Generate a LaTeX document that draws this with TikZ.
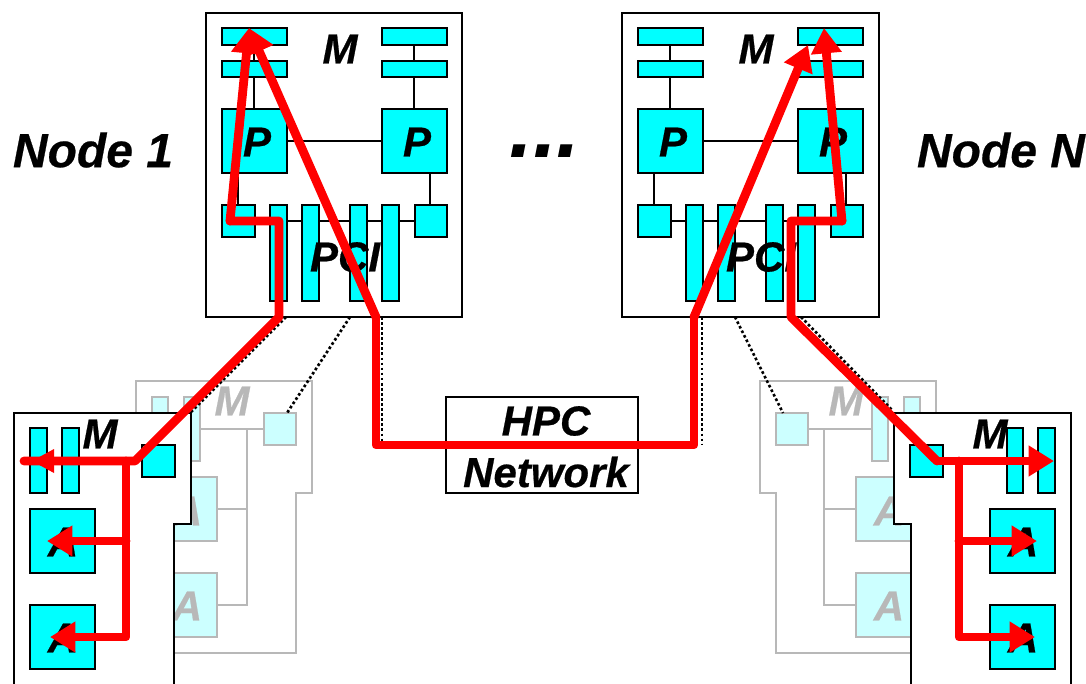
\documentclass[tikz,border=0pt]{standalone}
\usepackage{fontspec}
\setmainfont{Liberation Sans}[BoldItalicFeatures={FakeBold=0.5}]
\newfontfamily\dotfont{Liberation Sans}
\usetikzlibrary{arrows.meta}
\definecolor{cy}{RGB}{0,255,255}
\definecolor{ltcy}{RGB}{204,255,255}
\definecolor{gr}{RGB}{184,184,184}
\definecolor{rd}{RGB}{255,0,0}
\tikzset{
 x=0.75pt,y=-0.75pt,
 blk/.style={draw=black,line width=2pt},
 thin blk/.style={draw=black,line width=1.8pt},
 cbox/.style={draw=black,fill=cy,line width=2pt},
 gbox/.style={draw=gr,fill=ltcy,line width=2pt},
 gln/.style={draw=gr,line width=2.1pt},
 dots/.style={draw=black,line width=2pt,dash pattern=on 2pt off 1.8pt},
 redl/.style={draw=rd,line width=6.6pt,line join=round,line cap=round},
 redh/.style={redl,-{Triangle[length=19pt,width=22pt]}},
 lab/.style={font=\bfseries\itshape\fontsize{31.5pt}{31.5pt}\selectfont,inner sep=0pt,text=black},
 glab/.style={lab,text=gr},
 big/.style={font=\bfseries\itshape\fontsize{36pt}{36pt}\selectfont,inner sep=0pt,text=black},
}
\newcommand{\bx}[5]{\path[#1] (#2,#3) rectangle (#4,#5);}
\begin{document}
\begin{tikzpicture}
\useasboundingbox (0,0) rectangle (1086,683);
% --- gray cards
\path[gln,fill=white,line join=miter] (136,381) -- (312,381) -- (312,493) -- (296,493) -- (296,653) -- (136,653) -- cycle;
\path[gln,fill=white] (760,381) -- (936,381) -- (936,653) -- (776,653) -- (776,493) -- (760,493) -- cycle;
\path[gln] (200,429) -- (264,429);
\path[gln] (247,429) -- (247,605) -- (200,605);
\path[gln] (247,509) -- (200,509);
\path[gln] (808,429) -- (872,429);
\path[gln] (824,429) -- (824,605) -- (870,605);
\path[gln] (824,509) -- (870,509);
\bx{gbox}{152}{397}{168}{461}
\bx{gbox}{184}{397}{200}{461}
\bx{gbox}{264}{413}{296}{445}
\bx{gbox}{152}{477}{217}{541}
\bx{gbox}{152}{573}{217}{637}
\bx{gbox}{776}{413}{808}{445}
\bx{gbox}{872}{397}{888}{461}
\bx{gbox}{904}{397}{920}{461}
\bx{gbox}{856}{477}{921}{541}
\bx{gbox}{856}{573}{921}{637}
\node[glab] (gm1) at (232,401) {M};
\node[glab] (ga1) at (187,511) {A};
\node[glab] (ga2) at (187,606) {A};
\node[glab] (gm2) at (846,401) {M};
\node[glab] (ga3) at (889,511) {A};
\node[glab] (ga4) at (889,606) {A};
% --- front cards
\path[blk,fill=white] (14,690) -- (14,413) -- (191,413) -- (191,524) -- (174,524) -- (174,690);
\path[blk,fill=white] (911,690) -- (911,524) -- (894,524) -- (894,413) -- (1071,413) -- (1071,690);
\node[lab] (cm1) at (100,434) {M};
\node[lab] (cm2) at (990,434) {M};
\bx{cbox}{30}{428}{47}{493}
\bx{cbox}{62}{428}{79}{493}
\bx{cbox}{142}{445}{175}{477}
\bx{cbox}{30}{509}{95}{573}
\bx{cbox}{30}{605}{95}{669}
\bx{cbox}{910}{445}{943}{477}
\bx{cbox}{1007}{428}{1023}{493}
\bx{cbox}{1038}{428}{1055}{493}
\bx{cbox}{990}{509}{1055}{573}
\bx{cbox}{990}{605}{1055}{669}
\node[lab] (ca1) at (63,542) {A};
\node[lab] (ca2) at (63,638) {A};
\node[lab] (ca3) at (1023,542) {A};
\node[lab] (ca4) at (1023,638) {A};
% --- node 1
\path[blk] (206,13) rectangle (462,317);
\path[thin blk] (254,45) -- (254,109);
\path[thin blk] (414,45) -- (414,109);
\path[thin blk] (287,141) -- (382,141);
\path[thin blk] (238,173) -- (238,205);
\path[thin blk] (430,173) -- (430,205);
\path[thin blk] (255,221) -- (415,221);
\bx{cbox}{222}{28}{287}{45}
\bx{cbox}{222}{61}{287}{77}
\bx{cbox}{382}{28}{447}{45}
\bx{cbox}{382}{61}{447}{77}
\bx{cbox}{222}{109}{287}{173}
\bx{cbox}{382}{109}{447}{173}
\bx{cbox}{222}{205}{255}{237}
\bx{cbox}{415}{205}{447}{237}
\bx{cbox}{270}{205}{287}{301}
\bx{cbox}{302}{205}{319}{301}
\bx{cbox}{350}{205}{367}{301}
\bx{cbox}{382}{205}{399}{301}
\node[lab] (m1) at (340,49) {M};
\node[lab] (p1) at (257,142) {P};
\node[lab] (p2) at (417,142) {P};
\node[lab] (pci1) at (345,257) {PCI};
% --- node N
\path[blk] (622,13) rectangle (879,317);
\path[thin blk] (670,45) -- (670,109);
\path[thin blk] (830,45) -- (830,109);
\path[thin blk] (703,141) -- (798,141);
\path[thin blk] (654,173) -- (654,205);
\path[thin blk] (846,173) -- (846,205);
\path[thin blk] (671,221) -- (831,221);
\bx{cbox}{638}{28}{703}{45}
\bx{cbox}{638}{61}{703}{77}
\bx{cbox}{798}{28}{863}{45}
\bx{cbox}{798}{61}{863}{77}
\bx{cbox}{638}{109}{703}{173}
\bx{cbox}{798}{109}{863}{173}
\bx{cbox}{638}{205}{671}{237}
\bx{cbox}{831}{205}{863}{237}
\bx{cbox}{686}{205}{703}{301}
\bx{cbox}{718}{205}{735}{301}
\bx{cbox}{766}{205}{783}{301}
\bx{cbox}{798}{205}{815}{301}
\node[lab] (m2) at (756,49) {M};
\node[lab] (p3) at (673,142) {P};
\node[lab] (p4) at (833,142) {P};
\node[lab] (pci2) at (761,257) {PCI};
% --- labels
\node[big] (n1) at (93,150) {Node 1};
\node[big] (nn) at (1001,150) {Node N};
\node[font=\dotfont\bfseries\itshape\fontsize{64pt}{64pt}\selectfont,inner sep=0pt,anchor=base] (dd) at (545,157) {...};
% --- network box
\path[blk,fill=white] (446,397) rectangle (638,493);
\node[lab] (hpc) at (546,421) {HPC};
\node[lab] (net) at (546,472) {Network};
% --- dotted
\coordinate (d1a) at (286,317); \coordinate (d1b) at (191,412);
\coordinate (d2a) at (350,317); \coordinate (d2b) at (287,413);
\coordinate (d3a) at (382,317); \coordinate (d3b) at (382,441);
\coordinate (d4a) at (702,317); \coordinate (d4b) at (702,445);
\coordinate (d5a) at (735,317); \coordinate (d5b) at (783,413);
\coordinate (d6a) at (801,317); \coordinate (d6b) at (893,411);
\foreach \a/\b in {d1a/d1b,d2a/d2b,d3a/d3b,d4a/d4b,d5a/d5b,d6a/d6b} \path[dots] (\a) -- (\b);
% --- red
\coordinate (rA) at (376,317); \coordinate (rB) at (376,445);
\coordinate (rC) at (694,445); \coordinate (rD) at (694,317);
\coordinate (t1) at (249,28);  \coordinate (t2) at (808,45);
\path[redh] (rA) -- (t1);
\path[redl] (rA) -- (rB) -- (rC) -- (rD);
\path[redh] (rD) -- (t2);
\coordinate (l1) at (230,221); \coordinate (l2) at (279,221); \coordinate (l3) at (279,317);
\coordinate (l4) at (135,461); \coordinate (l5) at (24,461); \coordinate (l6) at (126,461);
\coordinate (l7) at (126,637); \coordinate (l8) at (50,637); \coordinate (l9) at (126,541); \coordinate (l10) at (47,541);
\path[redh] (l1) -- (t1);
\path[redl] (l1) -- (l2) -- (l3) -- (l4) -- (l5);
\path[fill=rd] (32,461) -- (54,449) -- (54,473) -- cycle;
\path[redh] (l6) -- (l7) -- (l8);
\path[redh] (l9) -- (l10);
\coordinate (r1) at (842,221); \coordinate (r2) at (791,221); \coordinate (r3) at (791,317);
\coordinate (r4) at (937,461); \coordinate (r5) at (1054,461); \coordinate (r6) at (959,461);
\coordinate (r7) at (959,637); \coordinate (r8) at (1035,637); \coordinate (r9) at (959,541); \coordinate (r10) at (1037,541);
\coordinate (t3) at (824,28);
\path[redh] (r1) -- (t3);
\path[redl] (r1) -- (r2) -- (r3) -- (r4);
\path[redh] (r4) -- (r5);
\path[redh] (r6) -- (r7) -- (r8);
\path[redh] (r9) -- (r10);
\end{tikzpicture}
\end{document}
